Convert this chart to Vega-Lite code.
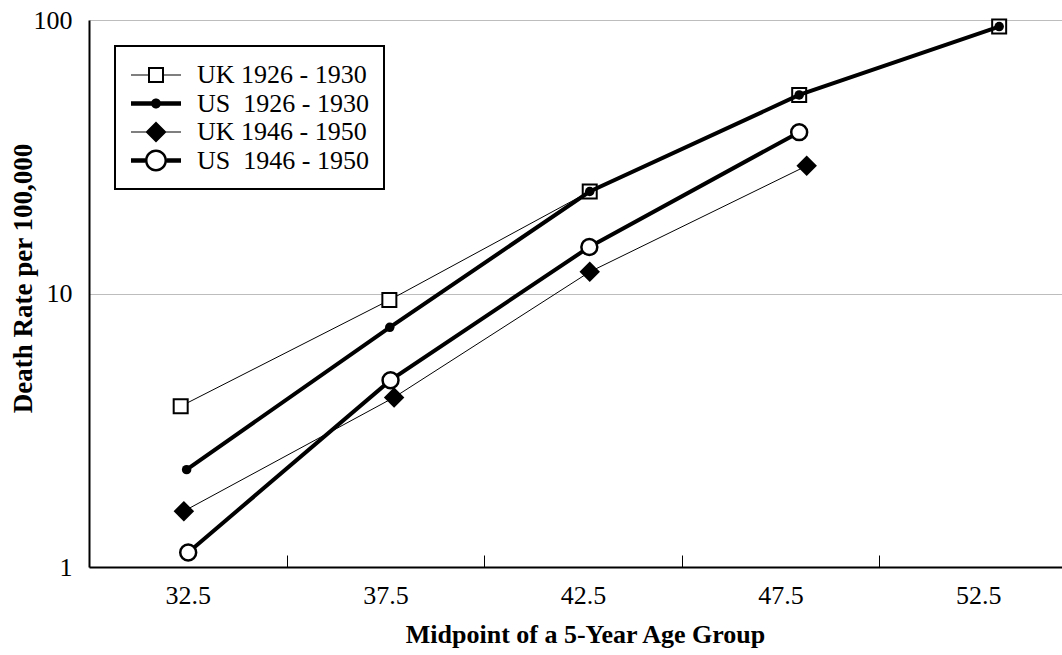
{
  "$schema": "https://vega.github.io/schema/vega-lite/v6.json",
  "width": 973,
  "height": 547,
  "autosize": {"type": "none"},
  "padding": {"left": 89, "top": 20, "right": 0, "bottom": 88},
  "background": "white",
  "config": {
    "view": {"stroke": null},
    "font": "Liberation Serif",
    "legend": {"strokeWidth": 2}
  },
  "data": {
    "values": [
      {"series": "UK 1926 - 1930", "age": 32.32, "rate": 3.87},
      {"series": "UK 1926 - 1930", "age": 37.6, "rate": 9.46},
      {"series": "UK 1926 - 1930", "age": 42.67, "rate": 23.6},
      {"series": "UK 1926 - 1930", "age": 47.97, "rate": 53.2},
      {"series": "UK 1926 - 1930", "age": 53.03, "rate": 94.6},
      {"series": "US 1926 - 1930", "age": 32.47, "rate": 2.27},
      {"series": "US 1926 - 1930", "age": 37.61, "rate": 7.52},
      {"series": "US 1926 - 1930", "age": 42.67, "rate": 23.6},
      {"series": "US 1926 - 1930", "age": 47.97, "rate": 53.2},
      {"series": "US 1926 - 1930", "age": 53.03, "rate": 94.6},
      {"series": "UK 1946 - 1950", "age": 32.4, "rate": 1.6},
      {"series": "UK 1946 - 1950", "age": 37.72, "rate": 4.17},
      {"series": "UK 1946 - 1950", "age": 42.67, "rate": 12.0},
      {"series": "UK 1946 - 1950", "age": 48.16, "rate": 29.3},
      {"series": "US 1946 - 1950", "age": 32.51, "rate": 1.13},
      {"series": "US 1946 - 1950", "age": 37.63, "rate": 4.82},
      {"series": "US 1946 - 1950", "age": 42.66, "rate": 14.8},
      {"series": "US 1946 - 1950", "age": 47.97, "rate": 38.9}
    ]
  },
  "encoding": {
    "x": {
      "field": "age",
      "type": "quantitative",
      "scale": {"domain": [30, 54.62], "nice": false, "zero": false},
      "axis": {
        "values": [32.5, 35, 37.5, 40, 42.5, 45, 47.5, 50, 52.5],
        "format": ".1f",
        "labelExpr": "datum.value % 5 == 0 ? '' : datum.label",
        "grid": false,
        "domainColor": "black",
        "domainWidth": 2,
        "tickColor": "black",
        "tickWidth": 1,
        "tickSize": -12,
        "tickOpacity": {"condition": {"test": "datum.value % 5 == 0", "value": 1}, "value": 0},
        "labelFont": "Liberation Serif",
        "labelFontSize": 26,
        "labelColor": "black",
        "labelBaseline": "alphabetic",
        "labelPadding": 48.6,
        "labelOverlap": false,
        "labelFlush": false,
        "title": "Midpoint of a 5-Year Age Group",
        "titleFont": "Liberation Serif",
        "titleFontSize": 26,
        "titleFontWeight": "bold",
        "titleColor": "black",
        "titleX": 496,
        "titleY": 75,
        "titleAlign": "center",
        "titleBaseline": "alphabetic"
      }
    },
    "y": {
      "field": "rate",
      "type": "quantitative",
      "scale": {"type": "log", "domain": [1, 100], "nice": false},
      "axis": {
        "values": [1, 10, 100],
        "format": "d",
        "grid": true,
        "gridColor": "#bdbdbd",
        "gridWidth": 1,
        "ticks": false,
        "domainColor": "black",
        "domainWidth": 2,
        "labelFont": "Liberation Serif",
        "labelFontSize": 26,
        "labelColor": "black",
        "labelPadding": 17,
        "title": "Death Rate per 100,000",
        "titleFont": "Liberation Serif",
        "titleFontSize": 27,
        "titleFontWeight": "bold",
        "titleColor": "black",
        "titleAngle": -90,
        "titleX": -58,
        "titleY": 258,
        "titleAlign": "center",
        "titleBaseline": "alphabetic"
      }
    }
  },
  "layer": [
    {
      "mark": {"type": "point", "filled": true, "opacity": 0},
      "encoding": {
        "color": {
          "field": "series",
          "type": "nominal",
          "scale": {
            "domain": ["UK 1926 - 1930", "US 1926 - 1930", "UK 1946 - 1950", "US 1946 - 1950"],
            "range": ["black", "black", "black", "black"]
          },
          "legend": {
            "title": null,
            "orient": "none",
            "legendX": 26,
            "legendY": 26,
            "padding": 15,
            "rowPadding": 1.5,
            "symbolSize": 784,
            "symbolOffset": 12,
            "symbolOpacity": 1,
            "symbolStrokeWidth": 0,
            "symbolType": {
              "expr": "datum.value == 'UK 1926 - 1930' ? 'M-1.786,-0.04H-0.571V0.04H-1.786Z M0.571,-0.04H1.786V0.04H0.571Z M-0.571,-0.571H0.571V0.571H-0.571Z M-0.429,-0.429V0.429H0.429V-0.429Z' : datum.value == 'US 1926 - 1930' ? 'M-1.786,-0.157H1.786V0.157H-1.786Z M-0.357,0A0.357,0.357 0 1,1 0.357,0A0.357,0.357 0 1,1 -0.357,0Z' : datum.value == 'UK 1946 - 1950' ? 'M-1.786,-0.04H1.786V0.04H-1.786Z M0,-0.75L0.75,0L0,0.75L-0.75,0Z' : 'M-1.786,-0.157H-0.78V0.157H-1.786Z M0.78,-0.157H1.786V0.157H0.78Z M-0.786,0A0.786,0.786 0 1,1 0.786,0A0.786,0.786 0 1,1 -0.786,0Z M-0.607,0A0.607,0.607 0 1,0 0.607,0A0.607,0.607 0 1,0 -0.607,0Z'"
            },
            "labelOffset": 27,
            "labelFont": "Liberation Serif",
            "labelFontSize": 26,
            "labelColor": "black",
            "labelLimit": 400,
            "labelExpr": "replace(datum.label, 'US ', 'US\u00a0 ')",
            "fillColor": "white",
            "strokeColor": "black"
          }
        }
      }
    },
    {
      "transform": [{"filter": "datum.series == 'UK 1926 - 1930'"}],
      "mark": {"type": "line", "color": "black", "strokeWidth": 1}
    },
    {
      "transform": [{"filter": "datum.series == 'UK 1926 - 1930'"}],
      "mark": {"type": "point", "shape": "square", "filled": true, "fill": "white", "stroke": "black", "strokeWidth": 2, "size": 196, "opacity": 1}
    },
    {
      "transform": [{"filter": "datum.series == 'US 1926 - 1930'"}],
      "mark": {"type": "line", "color": "black", "strokeWidth": 4}
    },
    {
      "transform": [{"filter": "datum.series == 'US 1926 - 1930'"}],
      "mark": {"type": "point", "shape": "circle", "filled": true, "fill": "black", "size": 90, "opacity": 1}
    },
    {
      "transform": [{"filter": "datum.series == 'UK 1946 - 1950'"}],
      "mark": {"type": "line", "color": "black", "strokeWidth": 1}
    },
    {
      "transform": [{"filter": "datum.series == 'UK 1946 - 1950'"}],
      "mark": {"type": "point", "shape": "diamond", "filled": true, "fill": "black", "size": 420, "opacity": 1}
    },
    {
      "transform": [{"filter": "datum.series == 'US 1946 - 1950'"}],
      "mark": {"type": "line", "color": "black", "strokeWidth": 4}
    },
    {
      "transform": [{"filter": "datum.series == 'US 1946 - 1950'"}],
      "mark": {"type": "point", "shape": "circle", "filled": true, "fill": "white", "stroke": "black", "strokeWidth": 2.5, "size": 254, "opacity": 1}
    }
  ]
}
